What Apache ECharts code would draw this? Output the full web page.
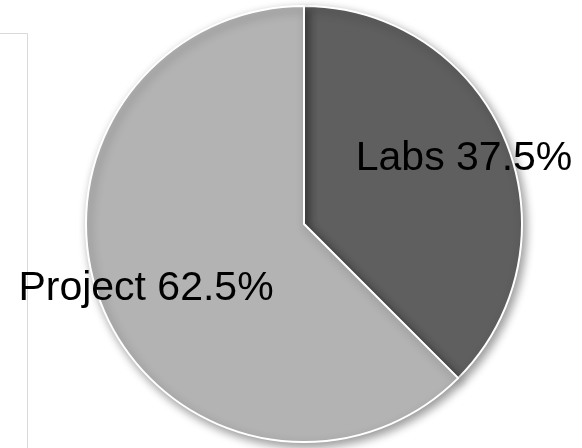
<!DOCTYPE html>
<html>
<head>
<meta charset="utf-8">
<script src="https://cdn.jsdelivr.net/npm/echarts@6/dist/echarts.min.js"></script>
<style>
  html, body { margin: 0; padding: 0; background: #ffffff; }
  #chart { width: 582px; height: 448px; }
</style>
</head>
<body>
<div id="chart"></div>
<script>
// slice data
const categories = ['Labs', 'Project'];
const shares = [37.5, 62.5];
const sliceColors = ['#5f5f5f', '#b3b3b3'];

// where each label sits (pixels)
const labelSpots = [[464, 159], [146, 289]];

const chart = echarts.init(document.getElementById('chart'));

const pieData = categories.map((name, i) => ({
  name: name,
  value: shares[i],
  itemStyle: { color: sliceColors[i] }
}));

chart.setOption({
  animation: false,
  backgroundColor: '#ffffff',
  graphic: [
    {
      type: 'rect',
      shape: { x: -5, y: 33.5, width: 32.5, height: 430 },
      style: { fill: 'none', stroke: '#d9d9d9', lineWidth: 1 },
      z: 0
    }
  ],
  series: [
    {
      type: 'pie',
      center: [304, 224],
      radius: [0, 218],
      startAngle: 90,
      clockwise: true,
      silent: true,
      itemStyle: {
        borderColor: '#ffffff',
        borderWidth: 2,
        shadowBlur: 10,
        shadowOffsetX: 3,
        shadowOffsetY: 4,
        shadowColor: 'rgba(0, 0, 0, 0.4)'
      },
      label: {
        show: true,
        position: 'inside',
        formatter: (p) => p.name + ' ' + p.value + '%',
        fontFamily: 'Liberation Sans, Arial, sans-serif',
        fontSize: 41,
        color: '#000000'
      },
      labelLine: { show: false },
      labelLayout: (params) => {
        const spot = labelSpots[params.dataIndex];
        return { x: spot[0], y: spot[1], align: 'center', verticalAlign: 'middle' };
      },
      data: pieData
    }
  ]
});
</script>
</body>
</html>
